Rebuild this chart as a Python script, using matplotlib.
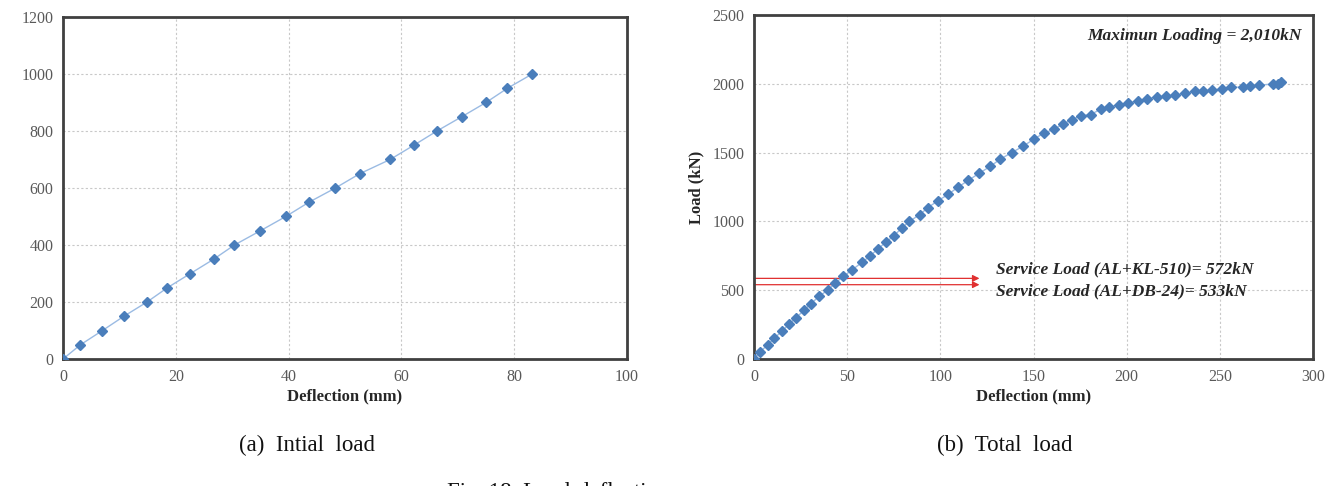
import matplotlib
matplotlib.use("Agg")
import matplotlib.pyplot as plt
from matplotlib.ticker import MultipleLocator

# ---- data ----
init_defl = [0, 3.1, 7.0, 10.8, 14.9, 18.5, 22.6, 26.7, 30.4, 35.0, 39.5,
             43.6, 48.3, 52.6, 58.0, 62.2, 66.3, 70.7, 75.0, 78.8, 83.2]
init_load = [0, 50, 100, 150, 200, 250, 300, 350, 400, 450, 500,
             550, 600, 650, 700, 750, 800, 850, 900, 950, 1000]

total_defl = [0, 3.2, 7.3, 10.7, 15.0, 18.7, 22.6, 26.7, 30.5, 35.0, 39.6,
              43.7, 48.0, 52.8, 57.9, 62.4, 66.5, 70.8, 75.2, 79.3, 83.4,
              89.0, 93.4, 98.6, 104.3, 109.6, 115.0, 121.0, 126.7, 131.9, 138.3,
              144.4, 150.3, 155.6, 160.8, 165.8, 170.6, 175.4, 180.6, 186.0, 190.7,
              195.7, 200.7, 205.9, 210.9, 216.2, 221.2, 226.0, 231.4, 236.7, 241.2,
              246.0, 251.0, 256.0, 262.2, 266.3, 270.8, 278.3, 281.0, 282.7]
total_load = [0, 53, 101, 149, 202, 252, 300, 353, 401, 457, 500,
              553, 601, 649, 702, 750, 800, 849, 897, 952, 1000,
              1050, 1101, 1149, 1197, 1250, 1298, 1351, 1399, 1450, 1500,
              1546, 1599, 1642, 1668, 1707, 1740, 1767, 1776, 1815, 1834,
              1846, 1861, 1875, 1892, 1904, 1909, 1918, 1930, 1945, 1947,
              1954, 1962, 1974, 1976, 1981, 1990, 1998, 2002, 2010]

service_labels = ["Service Load (AL+KL-510)= 572kN", "Service Load (AL+DB-24)= 533kN"]
service_line_y = [586, 540]
service_label_y = [652, 490]
service_line_x_end = 121
max_label = "Maximun Loading = 2,010kN"

captions = ["(a)  Intial  load", "(b)  Total  load"]

# ---- style ----
serif = ["Liberation Serif", "DejaVu Serif"]
plt.rcParams["font.family"] = serif
tick_color = "#595959"
marker_color = "#4a7ebb"
line_color = "#9bbbe3"
spine_color = "#404040"

fig = plt.figure(figsize=(13.25, 4.86), dpi=100)

ax1 = fig.add_axes([63/1325, 1-359/486, (627-63)/1325, (359-17)/486])
ax2 = fig.add_axes([754/1325, 1-359/486, (1313-754)/1325, (359-15)/486])

def style(ax):
    for s in ax.spines.values():
        s.set_color(spine_color)
        s.set_linewidth(2)
    ax.grid(True, color="#c8c8c8", linestyle=(0, (2, 2)), linewidth=0.8)
    ax.set_axisbelow(True)
    ax.tick_params(length=0, labelsize=11.5, labelcolor=tick_color, pad=7)
    ax.set_xlabel("Deflection (mm)", fontsize=12, fontweight="bold", color="#262626", labelpad=3)

ax1.plot(init_defl, init_load, color=line_color, lw=1, marker="D", ms=5.5,
         mfc=marker_color, mec=marker_color, zorder=3)
ax1.set_xlim(0, 100)
ax1.set_ylim(0, 1200)
ax1.xaxis.set_major_locator(MultipleLocator(20))
ax1.yaxis.set_major_locator(MultipleLocator(200))
style(ax1)
ax1.set_ylabel("Load (kN)", fontsize=12, fontweight="bold", color="#262626")
ax1.yaxis.set_label_coords(-0.12, 0.5)

ax2.plot(total_defl, total_load, color=line_color, lw=1, marker="D", ms=5.5,
         mfc=marker_color, mec=marker_color, zorder=3)
ax2.set_xlim(0, 300)
ax2.set_ylim(0, 2500)
ax2.xaxis.set_major_locator(MultipleLocator(50))
ax2.yaxis.set_major_locator(MultipleLocator(500))
style(ax2)
ax2.set_ylabel("Load (kN)", fontsize=12, fontweight="bold", color="#262626", labelpad=6)

for yv in service_line_y:
    ax2.annotate("", xy=(service_line_x_end, yv), xytext=(0, yv),
                 arrowprops=dict(arrowstyle="-|>,head_length=0.4,head_width=0.2",
                                 color="#e03030", lw=0.9, shrinkA=0, shrinkB=0),
                 zorder=2)
for lab, ly in zip(service_labels, service_label_y):
    ax2.text(130, ly, lab, fontsize=12.5, fontweight="bold", style="italic",
             color="#262626", va="center", ha="left")
ax2.text(294, 2348, max_label, fontsize=12.5, fontweight="bold", style="italic",
         color="#262626", va="center", ha="right")

fig.text(307/1325, 1-445/486, captions[0], fontsize=16.5, ha="center", va="center", color="#111111")
fig.text(1005/1325, 1-445/486, captions[1], fontsize=16.5, ha="center", va="center", color="#111111")
fig.text(447/1325, 1-498/486, "Fig. 18. Load-deflection curves", fontsize=16.5, ha="left",
         va="baseline", color="#111111")

fig.savefig("out.png", dpi=100)
